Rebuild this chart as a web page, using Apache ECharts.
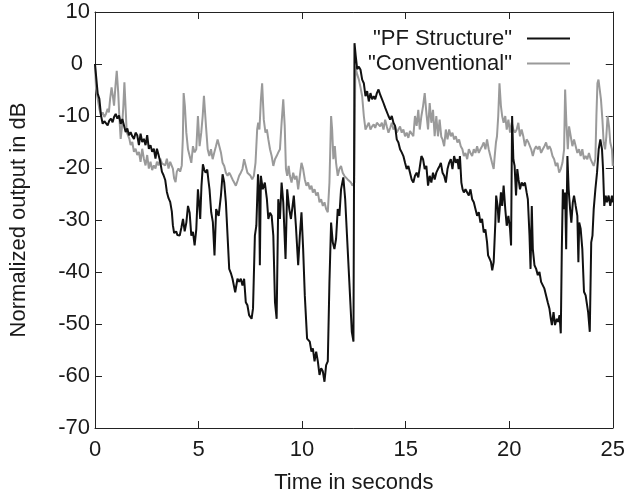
<!DOCTYPE html>
<html>
<head>
<meta charset="utf-8">
<script src="https://cdn.jsdelivr.net/npm/echarts@6/dist/echarts.min.js"></script>
<style>
html,body{margin:0;padding:0;background:#fff;}
#chart{width:628px;height:499px;}
</style>
</head>
<body>
<div id="chart"></div>
<script>
// Axis ticks
var xTicks = [0, 5, 10, 15, 20, 25];
var yTicks = [10, 0, -10, -20, -30, -40, -50, -60, -70];
var seriesNames = ['"PF Structure"', '"Conventional"'];

// "PF Structure" (time in s, output in dB)
var pfTimes = [0,0.13,0.21,0.29,0.37,0.45,0.53,0.61,0.69,0.77,0.85,0.92,1.00,1.08,1.16,1.24,1.32,1.40,1.48,1.56,1.64,1.72,1.80,1.88,1.96,2.04,2.12,2.20,2.28,2.36,2.44,2.52,2.60,2.68,2.76,2.84,2.92,2.99,3.07,3.15,3.23,3.31,3.39,3.47,3.55,3.63,3.71,3.76,3.82,3.92,3.98,4.09,4.17,4.25,4.33,4.41,4.49,4.57,4.65,4.73,4.81,4.89,4.97,5.03,5.08,5.14,5.21,5.28,5.34,5.42,5.48,5.53,5.61,5.69,5.77,5.85,5.97,6.08,6.16,6.24,6.32,6.40,6.48,6.56,6.64,6.77,6.88,6.96,7.04,7.12,7.20,7.28,7.36,7.44,7.56,7.63,7.72,7.79,7.87,7.92,7.96,8.01,8.10,8.20,8.30,8.37,8.45,8.53,8.61,8.69,8.77,8.85,8.93,9.01,9.09,9.20,9.28,9.38,9.46,9.54,9.60,9.70,9.81,9.89,9.97,10.05,10.13,10.24,10.37,10.45,10.52,10.60,10.68,10.76,10.84,10.92,11.00,11.08,11.16,11.24,11.32,11.40,11.48,11.56,11.64,11.72,11.80,11.88,11.99,12.08,12.16,12.28,12.40,12.48,12.53,12.59,12.66,12.74,12.82,12.90,12.98,13.06,13.14,13.22,13.30,13.38,13.46,13.53,13.61,13.69,13.77,13.85,13.93,14.01,14.09,14.17,14.25,14.33,14.41,14.49,14.57,14.65,14.73,14.81,14.89,14.97,15.05,15.13,15.21,15.29,15.37,15.45,15.53,15.61,15.68,15.76,15.84,15.92,16.00,16.08,16.16,16.24,16.32,16.40,16.48,16.56,16.64,16.70,16.78,16.86,16.94,17.02,17.10,17.18,17.26,17.34,17.42,17.50,17.56,17.62,17.69,17.75,17.81,17.89,17.97,18.05,18.13,18.21,18.29,18.37,18.45,18.53,18.61,18.69,18.77,18.85,18.93,18.98,19.06,19.12,19.18,19.25,19.33,19.37,19.44,19.49,19.54,19.60,19.66,19.73,19.81,19.88,19.96,20.04,20.09,20.14,20.20,20.26,20.33,20.39,20.45,20.52,20.60,20.68,20.76,20.84,20.90,20.98,21.03,21.09,21.14,21.22,21.30,21.38,21.46,21.54,21.62,21.70,21.78,21.86,21.94,22.01,22.06,22.14,22.21,22.30,22.36,22.43,22.49,22.54,22.59,22.65,22.70,22.75,22.81,22.87,22.94,23.00,23.07,23.13,23.21,23.29,23.34,23.38,23.45,23.53,23.61,23.69,23.77,23.81,23.89,23.96,24.02,24.08,24.16,24.24,24.32,24.40,24.48,24.53,24.59,24.66,24.72,24.80,24.88,24.96,25.00];
var pfValues = [0,-5.7,-6.7,-9.9,-11.5,-11.0,-10.8,-11.8,-10.9,-10.5,-11.2,-10.2,-9.6,-10.5,-9.9,-11.5,-10.6,-10.8,-13.1,-12.4,-13.7,-13.1,-13.9,-14.4,-13.2,-13.7,-15.6,-13.4,-15.0,-14.4,-15.6,-13.7,-16.3,-15.6,-16.9,-16.3,-18.2,-16.3,-17.5,-18.8,-20.7,-21.4,-22.3,-24.6,-25.8,-26.5,-28.4,-31.0,-32.5,-32.2,-32.9,-33.0,-31.5,-29.8,-32.2,-30.5,-27.3,-28.6,-33.0,-32.3,-34.9,-31.8,-24.1,-27.0,-29.8,-23.5,-19.3,-20.4,-20.9,-20.3,-22.5,-24.1,-28.5,-30.4,-36.8,-27.9,-29.2,-25.3,-21.2,-22.8,-26.6,-33.0,-39.4,-40.2,-41.3,-43.9,-41.3,-41.9,-41.3,-42.6,-41.3,-45.8,-46.4,-48.3,-49.0,-47.0,-33.0,-31.1,-21.2,-24.1,-38.7,-21.5,-24.1,-22.8,-26.0,-29.8,-28.6,-29.2,-33.0,-45.8,-49.0,-26.0,-29.8,-22.8,-26.6,-37.5,-24.1,-27.9,-29.8,-27.3,-25.3,-31.1,-38.7,-33.0,-28.5,-35.6,-44.5,-52.8,-53.4,-55.3,-54.7,-57.2,-55.3,-57.2,-59.8,-58.5,-59.1,-61.1,-57.9,-57.2,-41.9,-30.5,-34.3,-35.6,-33.6,-27.9,-29.2,-24.1,-21.8,-26.0,-32.4,-41.9,-51.5,-53.4,4.0,1.5,-1.0,-0.5,-1.1,-3.0,-3.7,-6.2,-5.2,-7.2,-5.6,-6.8,-6.2,-6.8,-5.6,-4.9,-5.9,-6.2,-7.5,-8.4,-8.7,-10.0,-10.7,-10.0,-11.3,-11.9,-14.5,-15.1,-16.4,-17.0,-17.7,-19.0,-20.2,-19.6,-20.9,-22.2,-22.8,-21.5,-20.9,-21.8,-21.5,-17.7,-18.3,-20.2,-19.6,-23.4,-21.5,-22.8,-20.9,-22.2,-20.9,-20.2,-19.6,-19.0,-20.9,-21.5,-22.8,-20.2,-19.0,-18.3,-20.2,-17.7,-19.0,-18.3,-20.2,-17.7,-22.8,-24.1,-24.7,-24.1,-24.7,-25.3,-24.1,-26.0,-26.6,-27.9,-29.2,-28.5,-30.5,-29.8,-32.4,-31.8,-34.3,-36.8,-37.5,-38.1,-39.7,-38.1,-30.5,-25.3,-27.3,-30.5,-27.9,-24.7,-27.3,-23.4,-27.9,-31.1,-29.2,-31.7,-34.9,-10.0,-18.3,-19.6,-25.3,-20.2,-22.2,-24.1,-22.8,-23.4,-22.8,-24.7,-26.0,-33.0,-39.4,-27.3,-35.6,-38.7,-39.4,-40.6,-40.0,-41.9,-41.9,-43.2,-42.9,-45.8,-47.0,-49.0,-50.2,-47.7,-50.2,-49.0,-49.6,-48.3,-51.8,-35.6,-24.1,-27.9,-24.7,-35.6,-17.7,-24.1,-27.9,-30.5,-26.6,-25.3,-27.3,-29.2,-38.1,-30.5,-31.7,-35.6,-43.8,-44.5,-44.5,-47.7,-51.5,-34.3,-33.0,-27.9,-24.1,-20.9,-16.4,-14.5,-16.4,-20.2,-27.3,-25.3,-26.6,-25.3,-27.3,-25.3,-26.6];

// "Conventional" (time in s, output in dB)
var convTimes = [0,0.05,0.13,0.21,0.29,0.37,0.45,0.53,0.61,0.67,0.73,0.80,0.86,0.92,0.99,1.05,1.12,1.18,1.24,1.31,1.37,1.42,1.48,1.53,1.59,1.66,1.72,1.80,1.88,1.96,2.04,2.12,2.20,2.28,2.36,2.44,2.52,2.60,2.68,2.76,2.84,2.92,2.99,3.07,3.15,3.23,3.31,3.39,3.47,3.55,3.63,3.70,3.76,3.82,3.89,3.95,4.03,4.11,4.19,4.24,4.28,4.34,4.41,4.49,4.57,4.65,4.73,4.81,4.89,4.97,5.05,5.13,5.20,5.26,5.36,5.44,5.52,5.60,5.68,5.76,5.84,5.92,6.00,6.08,6.16,6.24,6.32,6.40,6.48,6.56,6.64,6.72,6.80,6.88,6.96,7.04,7.12,7.20,7.28,7.36,7.44,7.51,7.59,7.67,7.75,7.83,7.88,7.94,8.01,8.07,8.15,8.23,8.30,8.37,8.45,8.53,8.61,8.69,8.77,8.85,8.93,9.01,9.09,9.16,9.22,9.28,9.35,9.41,9.49,9.57,9.65,9.73,9.81,9.89,9.97,10.05,10.13,10.21,10.29,10.37,10.45,10.52,10.60,10.68,10.76,10.84,10.92,11.00,11.08,11.16,11.24,11.32,11.40,11.45,11.51,11.58,11.64,11.72,11.80,11.88,11.96,12.04,12.12,12.20,12.28,12.36,12.43,12.52,12.57,12.66,12.74,12.82,12.90,12.98,13.06,13.14,13.22,13.30,13.38,13.46,13.53,13.61,13.69,13.77,13.85,13.93,14.01,14.09,14.17,14.25,14.33,14.41,14.49,14.57,14.65,14.73,14.81,14.89,14.97,15.05,15.13,15.21,15.29,15.37,15.45,15.53,15.61,15.68,15.76,15.84,15.92,16.00,16.08,16.16,16.24,16.32,16.40,16.48,16.56,16.64,16.72,16.78,16.86,16.94,17.02,17.10,17.18,17.26,17.34,17.42,17.50,17.58,17.66,17.74,17.81,17.89,17.97,18.05,18.13,18.21,18.29,18.37,18.45,18.53,18.61,18.69,18.77,18.85,18.93,19.01,19.09,19.17,19.25,19.30,19.36,19.41,19.47,19.53,19.60,19.66,19.73,19.81,19.88,19.96,20.04,20.12,20.20,20.28,20.36,20.44,20.52,20.60,20.68,20.76,20.84,20.92,20.98,21.06,21.14,21.22,21.30,21.38,21.46,21.54,21.62,21.70,21.78,21.86,21.94,22.01,22.09,22.17,22.25,22.33,22.41,22.49,22.57,22.65,22.70,22.76,22.83,22.89,22.97,23.05,23.13,23.21,23.29,23.37,23.45,23.53,23.61,23.69,23.77,23.85,23.93,24.01,24.08,24.16,24.21,24.26,24.31,24.37,24.43,24.50,24.56,24.63,24.69,24.75,24.82,24.88,24.96,25.00];
var convValues = [0,-4.8,-6.7,-8.6,-9.9,-9.3,-10.2,-9.6,-8.6,-9.3,-6.7,-4.5,-6.1,-8.0,-4.1,-1.3,-5.4,-10.5,-14.4,-11.8,-8.0,-3.5,-8.6,-13.1,-13.7,-14.4,-15.6,-15.0,-16.9,-16.3,-17.5,-16.9,-18.8,-16.3,-18.2,-19.5,-17.5,-20.1,-18.8,-20.4,-19.5,-20.1,-18.8,-19.5,-18.2,-19.1,-18.8,-19.5,-18.2,-20.1,-18.8,-19.1,-20.1,-22.0,-22.7,-20.7,-20.1,-20.7,-19.5,-14.4,-5.6,-8.1,-13.2,-16.4,-17.7,-19.0,-15.8,-17.0,-16.4,-10.0,-15.8,-13.2,-10.0,-6.1,-12.0,-16.4,-17.7,-16.4,-18.3,-17.0,-15.8,-14.5,-14.8,-17.0,-19.0,-19.6,-20.9,-21.5,-20.9,-21.5,-22.2,-22.8,-23.4,-22.5,-21.5,-20.9,-20.2,-18.3,-19.6,-20.9,-21.2,-21.5,-22.2,-21.5,-19.0,-12.6,-11.3,-12.6,-6.9,-3.7,-10.7,-13.2,-12.6,-14.5,-16.4,-17.7,-19.6,-18.3,-17.7,-17.0,-16.4,-11.3,-6.8,-11.9,-20.2,-21.5,-19.6,-21.5,-22.8,-20.9,-22.2,-21.5,-24.1,-21.5,-19.0,-20.2,-22.2,-23.4,-22.8,-24.1,-23.4,-24.7,-24.1,-25.3,-24.7,-26.6,-26.0,-27.3,-26.6,-27.9,-28.5,-22.8,-10.0,-12.6,-18.3,-15.8,-19.0,-21.5,-20.2,-19.6,-20.9,-21.5,-21.3,-22.2,-22.5,-22.8,-23.4,-22.8,-0.5,-2.0,-3.0,-4.5,-6.2,-10.0,-12.6,-12.3,-11.3,-12.6,-12.0,-11.6,-12.3,-11.3,-11.0,-12.0,-11.3,-12.6,-10.7,-12.0,-13.2,-12.3,-11.3,-12.6,-12.0,-13.2,-12.6,-12.0,-13.2,-12.6,-13.9,-13.2,-14.2,-12.9,-12.6,-13.9,-10.0,-11.9,-8.8,-12.6,-10.0,-8.1,-5.6,-9.4,-12.6,-7.5,-11.3,-8.8,-13.9,-10.0,-13.9,-10.7,-14.0,-14.5,-15.8,-12.6,-14.5,-12.6,-13.9,-13.2,-14.5,-13.9,-15.1,-14.5,-15.8,-16.4,-17.7,-17.1,-18.3,-16.4,-17.1,-17.7,-16.4,-17.1,-15.8,-17.1,-16.4,-15.8,-15.1,-16.4,-14.5,-16.4,-17.7,-19.0,-20.2,-17.7,-15.1,-13.9,-10.0,-3.7,-8.1,-10.0,-11.3,-10.0,-12.6,-10.7,-13.2,-11.3,-12.6,-13.2,-12.6,-11.3,-13.9,-12.6,-13.9,-15.8,-14.5,-15.0,-15.1,-16.4,-17.7,-16.4,-15.8,-16.4,-15.8,-17.1,-16.4,-15.8,-15.1,-16.4,-15.8,-16.4,-17.7,-18.3,-19.6,-19.0,-20.9,-20.2,-19.0,-16.4,-4.9,-11.3,-16.4,-12.0,-13.9,-15.8,-14.5,-15.8,-17.1,-16.4,-17.7,-16.4,-18.3,-17.7,-18.3,-17.1,-18.3,-19.0,-19.6,-18.3,-10.0,-3.7,-3.0,-4.9,-6.8,-10.7,-15.1,-16.4,-13.9,-10.0,-12.0,-15.1,-16.4,-19.6];

function pairs(ts, vs) { return ts.map(function (t, i) { return [t, vs[i]]; }); }

var FONT = 'Liberation Sans, Arial, Helvetica, sans-serif';
var textColor = '#1a1a1a';
var frame = { show: true, onZero: false, lineStyle: { color: '#222', width: 1 } };
var tick = { show: true, inside: true, length: 7, lineStyle: { color: '#222', width: 1 } };

var chart = echarts.init(document.getElementById('chart'), null, { renderer: 'canvas' });
chart.setOption({
  animation: false,
  backgroundColor: '#ffffff',
  grid: { left: 92, right: 12, top: 12, bottom: 69, containLabel: false },
  legend: {
    right: 52, top: 21, orient: 'vertical', align: 'right',
    itemWidth: 43, itemHeight: 14, itemGap: 0,
    data: seriesNames,
    itemStyle: { color: 'rgba(0,0,0,0)', borderWidth: 0, opacity: 0 },
    textStyle: { fontFamily: FONT, fontSize: 22, color: textColor, lineHeight: 25, padding: [0, 10, 0, 0] },
    selectedMode: false
  },
  xAxis: [{
    type: 'value', min: xTicks[0], max: xTicks[xTicks.length - 1], interval: 5,
    axisLine: frame, axisTick: tick, splitLine: { show: false },
    axisLabel: { fontFamily: FONT, fontSize: 22, color: textColor, margin: 11 },
    name: 'Time in seconds', nameLocation: 'middle', nameGap: 44,
    nameTextStyle: { fontFamily: FONT, fontSize: 22, color: textColor }
  }, {
    type: 'value', position: 'top', min: xTicks[0], max: xTicks[xTicks.length - 1], interval: 5,
    axisLine: frame, axisTick: tick, axisLabel: { show: false }, splitLine: { show: false }
  }],
  yAxis: [{
    type: 'value', min: yTicks[yTicks.length - 1], max: yTicks[0], interval: 10,
    axisLine: frame, axisTick: tick, splitLine: { show: false },
    axisLabel: {
      fontFamily: FONT, fontSize: 22, color: textColor, margin: 5,
      formatter: function (v) { return v === 0 ? '{z|0}' : String(v); },
      rich: { z: { fontFamily: FONT, fontSize: 22, color: textColor, padding: [0, 7, 0, 0] } }
    },
    name: 'Normalized output in dB', nameLocation: 'middle', nameGap: 65, nameRotate: 90,
    nameTextStyle: { fontFamily: FONT, fontSize: 22, color: textColor }
  }, {
    type: 'value', position: 'right', min: yTicks[yTicks.length - 1], max: yTicks[0], interval: 10,
    axisLine: frame, axisTick: tick, axisLabel: { show: false }, splitLine: { show: false }
  }],
  series: [{
    name: seriesNames[0], type: 'line', data: pairs(pfTimes, pfValues),
    showSymbol: false, symbol: 'none', z: 3,
    lineStyle: { color: '#111111', width: 2 }, itemStyle: { color: '#111111' }
  }, {
    name: seriesNames[1], type: 'line', data: pairs(convTimes, convValues),
    showSymbol: false, symbol: 'none', z: 2,
    lineStyle: { color: '#9a9a9a', width: 2 }, itemStyle: { color: '#9a9a9a' }
  }]
});
</script>
</body>
</html>
